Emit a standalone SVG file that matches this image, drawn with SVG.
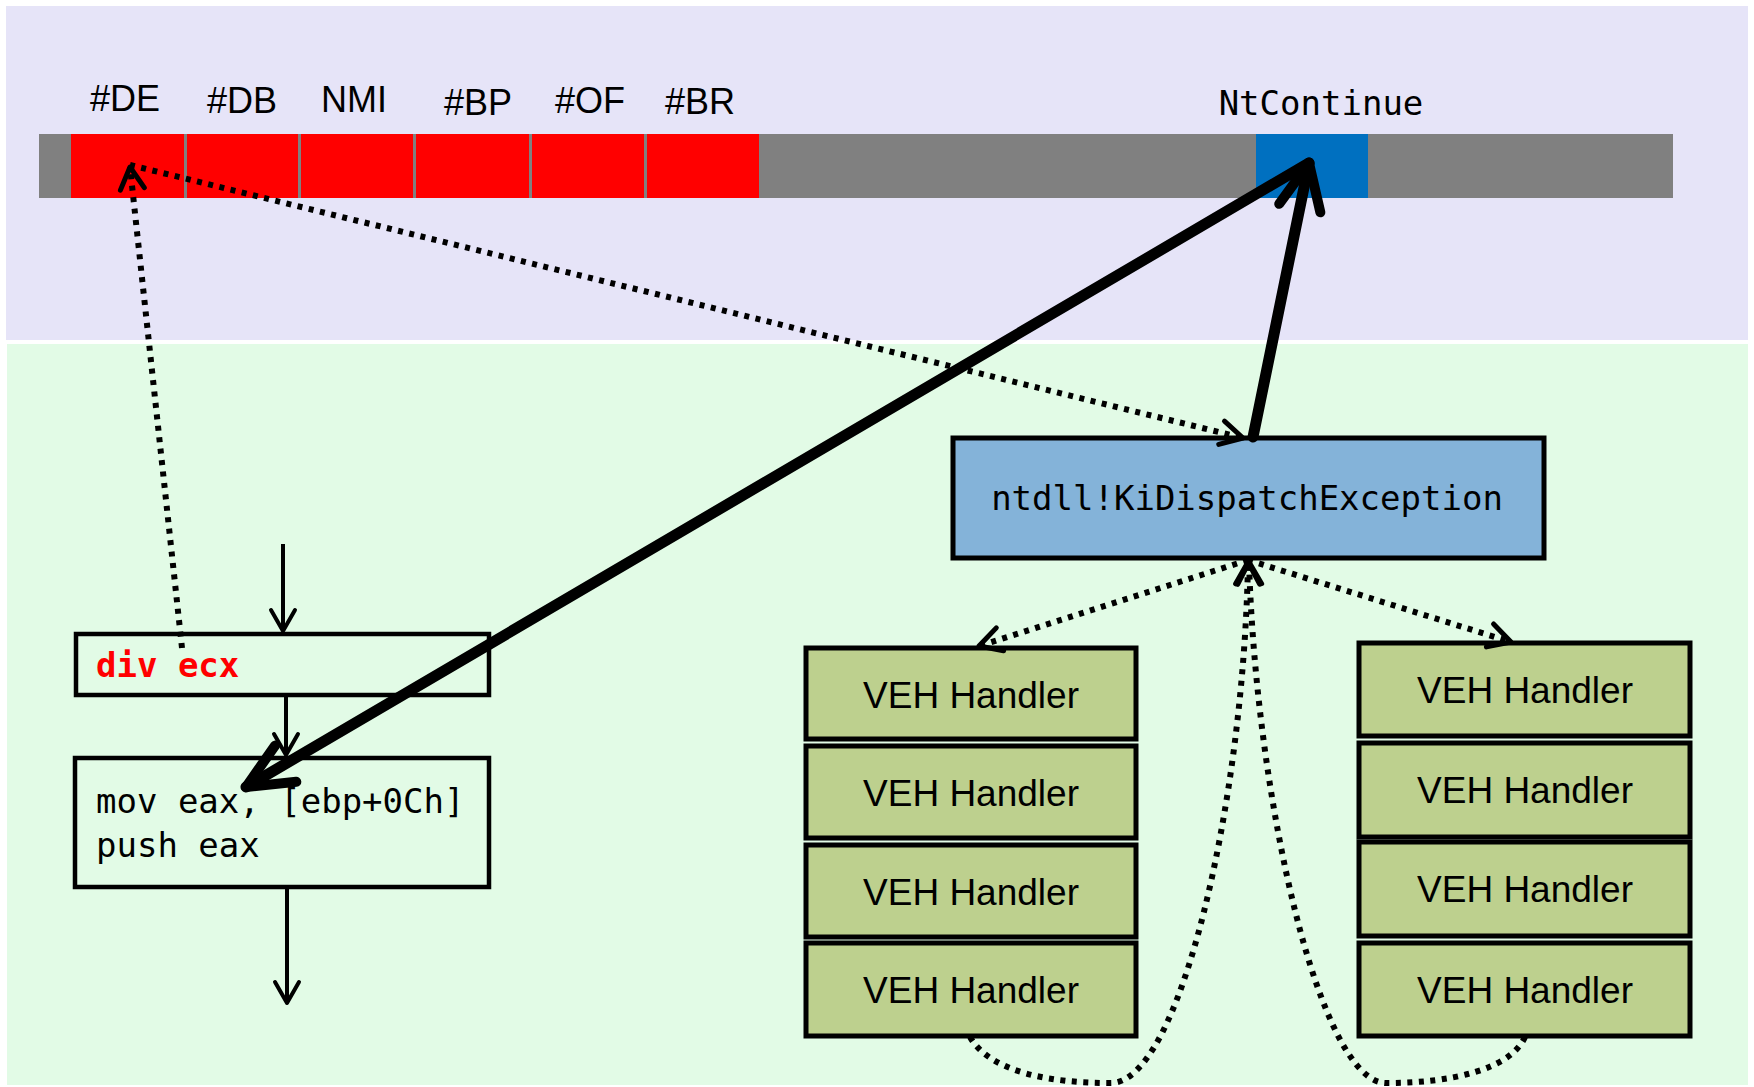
<svg xmlns="http://www.w3.org/2000/svg" width="1754" height="1087" viewBox="0 0 1754 1087">
  <style>
    .sans { font-family: "Liberation Sans", Arial, sans-serif; fill: #000; }
    .mono { font-family: "DejaVu Sans Mono", "Liberation Mono", monospace; fill: #000; }
    .idt { font-size: 36px; text-anchor: middle; }
    .veh rect { fill: #bdd08e; stroke: #000; stroke-width: 5; }
    .veh text { font-family: "Liberation Sans", Arial, sans-serif; font-size: 37px; text-anchor: middle; fill: #000; }
    .code { fill: none; stroke: #000; stroke-width: 4.5; }
    .dot { fill: none; stroke: #000; stroke-width: 6; stroke-dasharray: 5 6.5; }
    .thick { fill: none; stroke: #000; stroke-width: 11; stroke-linecap: round; }
    .flow { fill: none; stroke: #000; stroke-width: 4; }
    .cell { fill: #ff0000; }
  </style>
  <defs>
    <marker id="headThick" markerUnits="userSpaceOnUse" viewBox="-60 -30 70 60" refX="0" refY="0" markerWidth="70" markerHeight="60" orient="auto">
      <path d="M -46 -21 L 0 0 L -46 21" fill="none" stroke="#000" stroke-width="10" stroke-linecap="round" stroke-linejoin="round"/>
    </marker>
    <marker id="headDot" markerUnits="userSpaceOnUse" viewBox="-30 -20 40 40" refX="0" refY="0" markerWidth="40" markerHeight="40" orient="auto">
      <path d="M -22 -12 L 0 0 L -22 12" fill="none" stroke="#000" stroke-width="5" stroke-linecap="round" stroke-linejoin="round"/>
    </marker>
    <marker id="headFlow" markerUnits="userSpaceOnUse" viewBox="-30 -20 40 40" refX="0" refY="0" markerWidth="40" markerHeight="40" orient="auto">
      <path d="M -21 -12 L 0 0 L -21 12" fill="none" stroke="#000" stroke-width="4" stroke-linecap="round" stroke-linejoin="round"/>
    </marker>
  </defs>

  <!-- background bands: kernel (top) and user mode (bottom) -->
  <rect x="0" y="0" width="1754" height="1087" fill="#ffffff"/>
  <rect id="kernel-band" x="6" y="6" width="1742" height="334" fill="#e6e4f8"/>
  <rect id="user-band" x="7" y="344" width="1741" height="741" fill="#e2fbe6"/>

  <!-- interrupt descriptor table strip -->
  <g id="idt">
    <rect x="39" y="134" width="1634" height="64" fill="#808080"/>
    <rect class="cell" x="71" y="134" width="113" height="64"/>
    <rect class="cell" x="187" y="134" width="111" height="64"/>
    <rect class="cell" x="301" y="134" width="112" height="64"/>
    <rect class="cell" x="416" y="134" width="113" height="64"/>
    <rect class="cell" x="532" y="134" width="112" height="64"/>
    <rect class="cell" x="647" y="134" width="112" height="64"/>
    <rect x="1256" y="134" width="112" height="64" fill="#0070c0"/>
    <text class="sans idt" x="125" y="111">#DE</text>
    <text class="sans idt" x="242" y="113">#DB</text>
    <text class="sans idt" x="354" y="112">NMI</text>
    <text class="sans idt" x="478" y="115">#BP</text>
    <text class="sans idt" x="590" y="113">#OF</text>
    <text class="sans idt" x="700" y="114">#BR</text>
    <text class="mono" x="1321" y="115" font-size="34" text-anchor="middle">NtContinue</text>
  </g>

  <!-- faulting instruction -->
  <g id="div-ecx">
    <rect class="code" x="76" y="634" width="413" height="61"/>
    <text class="mono" x="96" y="677" font-size="34" font-weight="bold" style="fill:#ff0000">div ecx</text>
  </g>

  <!-- following instructions -->
  <g id="next-insn">
    <rect class="code" x="75" y="758" width="414" height="129"/>
    <text class="mono" x="96" y="813" font-size="34">mov eax, [ebp+0Ch]</text>
    <text class="mono" x="96" y="857" font-size="34">push eax</text>
  </g>

  <!-- exception dispatcher -->
  <g id="ki-dispatch">
    <rect x="953" y="438" width="591" height="120" fill="#84b3d9" stroke="#000" stroke-width="5"/>
    <text class="mono" x="1247" y="510" font-size="34" text-anchor="middle">ntdll!KiDispatchException</text>
  </g>

  <!-- vectored exception handler chains -->
  <g id="veh-left" class="veh">
    <g id="veh-l1"><rect x="806" y="648" width="330" height="91"/><text x="971" y="708">VEH Handler</text></g>
    <g id="veh-l2"><rect x="806" y="746" width="330" height="92"/><text x="971" y="806">VEH Handler</text></g>
    <g id="veh-l3"><rect x="806" y="845" width="330" height="92"/><text x="971" y="905">VEH Handler</text></g>
    <g id="veh-l4"><rect x="806" y="943" width="330" height="93"/><text x="971" y="1003">VEH Handler</text></g>
  </g>
  <g id="veh-right" class="veh">
    <g id="veh-r1"><rect x="1359" y="643" width="331" height="93"/><text x="1525" y="703">VEH Handler</text></g>
    <g id="veh-r2"><rect x="1359" y="743" width="331" height="94"/><text x="1525" y="803">VEH Handler</text></g>
    <g id="veh-r3"><rect x="1359" y="842" width="331" height="94"/><text x="1525" y="902">VEH Handler</text></g>
    <g id="veh-r4"><rect x="1359" y="943" width="331" height="93"/><text x="1525" y="1003">VEH Handler</text></g>
  </g>

  <g id="connectors">
    <!-- normal control flow -->
    <line class="flow" x1="283" y1="544" x2="283" y2="631" marker-end="url(#headFlow)"/>
    <line class="flow" x1="286" y1="697" x2="286" y2="755" marker-end="url(#headFlow)"/>
    <line class="flow" x1="287" y1="889" x2="287" y2="1003" marker-end="url(#headFlow)"/>

    <!-- fault raised to #DE -->
    <line class="dot" x1="182" y1="648" x2="130" y2="167" marker-end="url(#headDot)"/>
    <!-- #DE to dispatcher -->
    <line class="dot" x1="130" y1="165" x2="1243" y2="438" marker-end="url(#headDot)"/>

    <!-- dispatcher to handlers -->
    <line class="dot" x1="1248" y1="560" x2="979" y2="646" marker-end="url(#headDot)"/>
    <line class="dot" x1="1248" y1="560" x2="1511" y2="642" marker-end="url(#headDot)"/>

    <!-- handler chains return to dispatcher -->
    <path class="dot" d="M 970 1037 C 990 1072 1050 1083 1110 1083 C 1180 1085 1244 800 1248 562" marker-end="url(#headDot)"/>
    <path class="dot" d="M 1525 1037 C 1510 1070 1450 1083 1387 1083 C 1320 1085 1256 800 1249 562" marker-end="url(#headDot)"/>

    <!-- dispatcher calls NtContinue, which resumes execution -->
    <line class="thick" x1="1253" y1="437" x2="1309" y2="163" marker-end="url(#headThick)"/>
    <line class="thick" x1="1309" y1="163" x2="246" y2="787" marker-end="url(#headThick)"/>
  </g>
</svg>
